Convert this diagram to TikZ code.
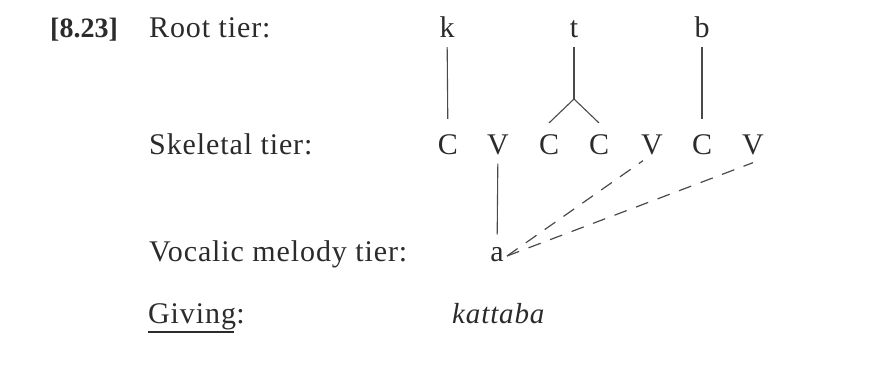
\documentclass[tikz,border=0pt]{standalone}
\usepackage{fontspec}
\setmainfont{Liberation Serif}
\newfontfamily\trk{Liberation Serif}[LetterSpace=3]
\definecolor{ink}{HTML}{2B2B2B}
\definecolor{rule}{HTML}{4A4A4A}
\begin{document}
\begin{tikzpicture}[x=1pt,y=-1pt,
  lbl/.style={anchor=base west, inner sep=0, text=ink, font=\trk\fontsize{30pt}{36pt}\selectfont},
  seg/.style={anchor=base, inner sep=0, text=ink, font=\fontsize{30pt}{36pt}\selectfont},
  assoc/.style={draw=rule, line width=1.1pt},
  dassoc/.style={draw=rule, line width=1.2pt, dash pattern=on 13pt off 10pt}]
\useasboundingbox (0,0) rectangle (881,365);
\fill[white] (0,0) rectangle (881,365);
% labels
\node[lbl, font=\bfseries\fontsize{28pt}{34pt}\selectfont] (num) at (50,37) {[8.23]};
\node[lbl] (root) at (149,37) {Root tier:};
\node[lbl] (skel) at (149,154) {Skeletal tier:};
\node[lbl] (voc) at (149,261) {Vocalic melody tier:};
\node[lbl] (giv) at (148,323) {Giving};
\node[lbl, anchor=base west] (givc) at (giv.base east) {:};
\draw[draw=ink, line width=1.3pt] ([yshift=-9pt]giv.base west) -- ([yshift=-9pt,xshift=-2pt]giv.base east);
% root tier
\node[seg] (k) at (447,37) {k};
\node[seg] (t) at (574,37) {t};
\node[seg] (b) at (702,37) {b};
% skeletal tier
\node[seg] (C1) at (448,154) {C};
\node[seg] (V1) at (498,154) {V};
\node[seg] (C2) at (549,154) {C};
\node[seg] (C3) at (599,154) {C};
\node[seg] (V2) at (652,154) {V};
\node[seg] (C4) at (702,154) {C};
\node[seg] (V3) at (753,154) {V};
% vocalic melody
\node[seg] (a) at (497,261) {a};
% result
\node[lbl, font=\trk\itshape\fontsize{29pt}{34pt}\selectfont] (res) at (452,323) {kattaba};
% associations
\draw[assoc, shorten <=10pt, shorten >=15pt] (k) -- (C1);
\draw[assoc, shorten <=10pt, shorten >=15pt] (b) -- (C4);
\coordinate (tb) at (574,99);
\draw[assoc, shorten <=10pt] (t) -- (tb);
\draw[assoc] ([yshift=11pt]C2.north) -- (tb) -- ([yshift=11pt]C3.north);
\draw[assoc, shorten <=9pt, shorten >=12pt] (V1) -- (a);
\coordinate (aR) at (507,256);
\draw[dassoc] (aR) -- ([xshift=-9pt,yshift=-6pt]V2.south);
\draw[dassoc] (aR) -- ([yshift=-8pt]V3.south);
\end{tikzpicture}
\end{document}
